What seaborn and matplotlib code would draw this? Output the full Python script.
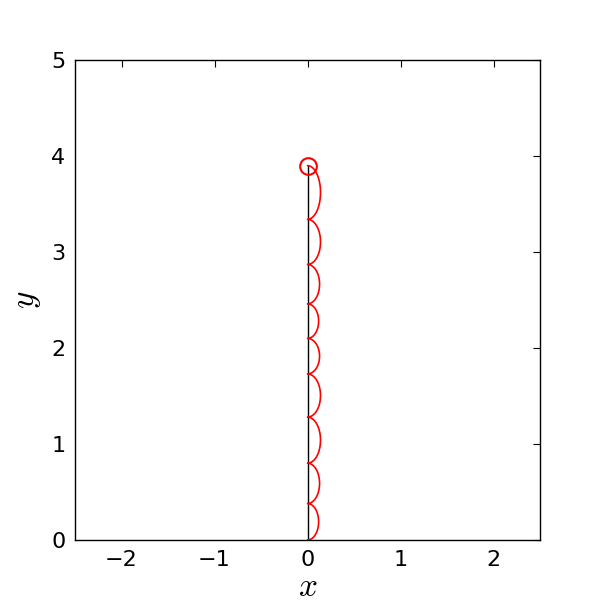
import numpy as np
import pandas as pd
import seaborn as sns
import matplotlib.pyplot as plt

# cusp heights of the red trace (top to bottom) and bulge width of each arc
cusp_y = [3.90, 3.34, 2.87, 2.46, 2.10, 1.73, 1.28, 0.80, 0.38, 0.0]
arc_w = [0.14, 0.14, 0.13, 0.12, 0.13, 0.14, 0.14, 0.13, 0.12]
rod_x = [0.0, 0.0]
rod_y = [0.0, 3.90]
ball_x = [0.0]
ball_y = [3.90]
x_ticks = [-2, -1, 0, 1, 2]
y_ticks = [0, 1, 2, 3, 4, 5]

sns.set_style('white')
plt.rcParams['font.family'] = ['DejaVu Sans']
plt.rcParams['mathtext.fontset'] = 'cm'
plt.rcParams['text.color'] = 'black'
plt.rcParams['axes.labelcolor'] = 'black'
plt.rcParams['xtick.color'] = 'black'
plt.rcParams['ytick.color'] = 'black'

# build the trace from the arcs between cusps
xs, ys = [], []
for i, w in enumerate(arc_w):
    top, bot = cusp_y[i], cusp_y[i + 1]
    th = np.linspace(0, np.pi, 60)
    xs.extend(w * np.sin(th))
    ys.extend((top + bot) / 2 + (top - bot) / 2 * np.cos(th))
trace = pd.DataFrame({'x': xs, 'y': ys})
rod = pd.DataFrame({'x': rod_x, 'y': rod_y})

fig = plt.figure(figsize=(6, 6), dpi=100)
ax = fig.add_axes([0.125, 0.1, 0.775, 0.8])
sns.lineplot(data=rod, x='x', y='y', sort=False, estimator=None, color='black', linewidth=1.0, ax=ax)
sns.lineplot(data=trace, x='x', y='y', sort=False, estimator=None, color='red', linewidth=1.2, ax=ax)
ax.plot(ball_x, ball_y, 'o', markersize=12, markerfacecolor='none', markeredgecolor='red', markeredgewidth=1.5)

ax.set_xlim(-2.5, 2.5)
ax.set_ylim(0, 5)
ax.set_xticks(x_ticks)
ax.set_yticks(y_ticks)
ax.tick_params(direction='in', top=True, right=True, length=5, width=0.8, labelsize=16, pad=7, colors='black')
for s in ax.spines.values():
    s.set_color('black')
    s.set_linewidth(1.0)
ax.set_xlabel('$x$', fontsize=24, labelpad=0)
ax.set_ylabel('$y$', fontsize=24, labelpad=6)

fig.savefig('out.png', dpi=100)
